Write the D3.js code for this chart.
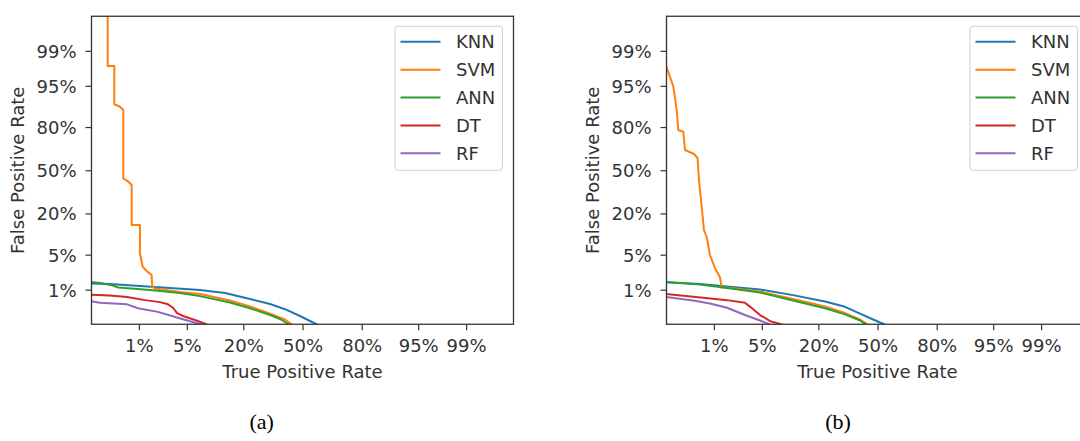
<!DOCTYPE html>
<html>
<head>
<meta charset="utf-8">
<script src="https://cdn.jsdelivr.net/npm/d3@7"></script>
<style>
  body { margin: 0; background: #fff; }
  svg { display: block; }
  .tick text { font-family: "DejaVu Sans", sans-serif; font-size: 18px; fill: #333; }
  .tick line { stroke: #333; stroke-width: 1.2; }
</style>
</head>
<body>
<script>
// DET plot, two panels, probit scaled axes
var models = ["KNN", "SVM", "ANN", "DT", "RF"];
var colors = ["#1f77b4", "#ff7f0e", "#2ca02c", "#d62728", "#9467bd"];
var tickRates = [0.01, 0.05, 0.2, 0.5, 0.8, 0.95, 0.99];
var tickLabels = ["1%", "5%", "20%", "50%", "80%", "95%", "99%"];

// panel (a): [x rate, y rate]
var knnA = [[0.001,0.0137],[0.0031,0.0133],[0.0104,0.0121],[0.0298,0.0109],[0.0725,0.0098],[0.1352,0.0084],[0.2278,0.0061],[0.322,0.0046],[0.4017,0.0034],[0.4857,0.00226],[0.5425,0.00166],[0.5816,0.00133]];
var svmA = [[0.0028,0.999],[0.0028,0.9789],[0.00373,0.9789],[0.00373,0.9006],[0.00473,0.892],[0.00542,0.8798],[0.00542,0.4376],[0.00663,0.4118],[0.00757,0.387],[0.00757,0.143],[0.0104,0.143],[0.0104,0.0528],[0.01154,0.0301],[0.01366,0.0241],[0.016,0.0206],[0.0163,0.01163],[0.018,0.0106],[0.0408,0.0088],[0.0725,0.008],[0.1513,0.0056],[0.2278,0.004],[0.322,0.0026],[0.4017,0.00182],[0.4407,0.00133]];
var annA = [[0.001,0.0151],[0.002,0.014],[0.0035,0.0124],[0.0044,0.0112],[0.0151,0.0098],[0.0408,0.0084],[0.0725,0.0071],[0.1513,0.005],[0.2278,0.0036],[0.322,0.0024],[0.3745,0.00188],[0.4239,0.00133]];
var dtA = [[0.001,0.0077],[0.0031,0.0073],[0.0063,0.0068],[0.0126,0.0057],[0.0214,0.0051],[0.0279,0.0045],[0.0328,0.0037],[0.0372,0.0027],[0.0447,0.00226],[0.0632,0.00177],[0.0873,0.00133]];
var rfA = [[0.001,0.0057],[0.002,0.0049],[0.0063,0.0045],[0.0097,0.0036],[0.0199,0.0029],[0.0317,0.00226],[0.0434,0.00188],[0.0686,0.00141],[0.0786,0.00133]];

// panel (b)
var knnB = [[0.001,0.0147],[0.0058,0.0133],[0.0162,0.0118],[0.0474,0.0101],[0.1147,0.0075],[0.2278,0.0053],[0.322,0.0039],[0.4017,0.0026],[0.4689,0.00188],[0.5143,0.00151],[0.5425,0.00133]];
var svmB = [[0.00135,0.9779],[0.00185,0.9482],[0.00215,0.8798],[0.00231,0.7835],[0.00288,0.7737],[0.0031,0.6535],[0.00454,0.6244],[0.00525,0.5945],[0.00557,0.4247],[0.0062,0.2432],[0.0068,0.1222],[0.00767,0.0934],[0.0086,0.0494],[0.0104,0.0285],[0.0126,0.0183],[0.0133,0.0112],[0.0162,0.0112],[0.0474,0.0091],[0.1147,0.0061],[0.2278,0.004],[0.322,0.0027],[0.4017,0.00182],[0.4463,0.00133]];
var annB = [[0.001,0.0151],[0.0058,0.013],[0.0162,0.0109],[0.0474,0.0086],[0.1147,0.0056],[0.2278,0.0036],[0.322,0.0025],[0.4017,0.00171],[0.4349,0.00133]];
var dtB = [[0.001,0.0082],[0.0044,0.0069],[0.0162,0.0057],[0.0298,0.0049],[0.0372,0.0036],[0.0474,0.0024],[0.065,0.0016],[0.0873,0.00133]];
var rfB = [[0.001,0.0071],[0.0044,0.0056],[0.0086,0.0047],[0.0162,0.0037],[0.0317,0.0023],[0.0474,0.00171],[0.0632,0.00133]];

var panelA = [knnA, svmA, annA, dtA, rfA];
var panelB = [knnB, svmB, annB, dtB, rfB];

// inverse normal cdf (Acklam)
function ppf(p) {
  var a = [-3.969683028665376e+01, 2.209460984245205e+02, -2.759285104469687e+02, 1.383577518672690e+02, -3.066479806614716e+01, 2.506628277459239e+00];
  var b = [-5.447609879822406e+01, 1.615858368580409e+02, -1.556989798598866e+02, 6.680131188771972e+01, -1.328068155288572e+01];
  var c = [-7.784894002430293e-03, -3.223964580411365e-01, -2.400758277161838e+00, -2.549732539343734e+00, 4.374664141464968e+00, 2.938163982698783e+00];
  var d = [7.784695709041462e-03, 3.224671290700398e-01, 2.445134137142996e+00, 3.754408661907416e+00];
  var q, r;
  if (p < 0.02425) {
    q = Math.sqrt(-2 * Math.log(p));
    return (((((c[0]*q+c[1])*q+c[2])*q+c[3])*q+c[4])*q+c[5]) / ((((d[0]*q+d[1])*q+d[2])*q+d[3])*q+1);
  } else if (p > 1 - 0.02425) {
    q = Math.sqrt(-2 * Math.log(1 - p));
    return -(((((c[0]*q+c[1])*q+c[2])*q+c[3])*q+c[4])*q+c[5]) / ((((d[0]*q+d[1])*q+d[2])*q+d[3])*q+1);
  }
  q = p - 0.5; r = q * q;
  return (((((a[0]*r+a[1])*r+a[2])*r+a[3])*r+a[4])*r+a[5])*q / (((((b[0]*r+b[1])*r+b[2])*r+b[3])*r+b[4])*r+1);
}

var W = 1080, H = 441;
var svg = d3.select("body").append("svg").attr("width", W).attr("height", H);

var top0 = 16.25, plotH = 308, plotW = 422;

function drawPanel(left, series, caption, id) {
  var x = d3.scaleLinear().domain([-3, 3]).range([0, plotW]);
  var y = d3.scaleLinear().domain([-3, 3]).range([plotH, 0]);
  var g = svg.append("g").attr("transform", "translate(" + left + "," + top0 + ")");

  g.append("clipPath").attr("id", id).append("rect")
    .attr("width", plotW).attr("height", plotH);

  var line = d3.line()
    .x(function(d) { return x(ppf(d[0])); })
    .y(function(d) { return y(ppf(d[1])); });

  var lines = g.append("g").attr("clip-path", "url(#" + id + ")");
  series.forEach(function(s, i) {
    lines.append("path")
      .attr("d", line(s))
      .attr("fill", "none")
      .attr("stroke", colors[i])
      .attr("stroke-width", 2)
      .attr("stroke-linejoin", "round");
  });

  // axes
  var ax = g.append("g")
    .attr("transform", "translate(0," + plotH + ")")
    .call(d3.axisBottom(x).tickValues(tickRates.map(ppf))
      .tickFormat(function(d, i) { return tickLabels[i]; })
      .tickSize(6).tickPadding(9).tickSizeOuter(0));
  ax.select(".domain").remove();

  var ay = g.append("g")
    .call(d3.axisLeft(y).tickValues(tickRates.map(ppf))
      .tickFormat(function(d, i) { return tickLabels[i]; })
      .tickSize(6).tickPadding(9).tickSizeOuter(0));
  ay.select(".domain").remove();
  ay.selectAll(".tick text").attr("dy", "0.36em");

  g.append("rect")
    .attr("width", plotW).attr("height", plotH)
    .attr("fill", "none").attr("stroke", "#333").attr("stroke-width", 1.3);

  // legend
  var lg = g.append("g").attr("transform", "translate(" + (plotW - 118.5) + ",10)");
  lg.append("rect")
    .attr("width", 107.5).attr("height", 144).attr("rx", 3)
    .attr("fill", "#fff").attr("fill-opacity", 0.8)
    .attr("stroke", "#d0d0d0").attr("stroke-width", 1);
  models.forEach(function(m, i) {
    var yy = 15.5 + i * 27.9;
    lg.append("line")
      .attr("x1", 5.5).attr("x2", 45.5).attr("y1", yy).attr("y2", yy)
      .attr("stroke", colors[i]).attr("stroke-width", 2);
    lg.append("text")
      .attr("x", 61).attr("y", yy).attr("dy", "0.36em")
      .style("font-family", "DejaVu Sans, sans-serif")
      .style("font-size", "18px").style("fill", "#333")
      .text(m);
  });

  // labels
  g.append("text")
    .attr("x", plotW / 2).attr("y", 355.5)
    .attr("text-anchor", "middle").attr("dy", "0.36em")
    .style("font-family", "DejaVu Sans, sans-serif")
    .style("font-size", "18px").style("fill", "#333")
    .text("True Positive Rate");

  g.append("text")
    .attr("transform", "translate(" + (-left + (left - 74)) + "," + (plotH / 2) + ") rotate(-90)")
    .attr("text-anchor", "middle").attr("dy", "0.36em")
    .style("font-family", "DejaVu Sans, sans-serif")
    .style("font-size", "18px").style("fill", "#333")
    .text("False Positive Rate");

  svg.append("text")
    .attr("x", caption.x).attr("y", 421.7)
    .attr("text-anchor", "middle").attr("dy", "0.35em")
    .style("font-family", "Liberation Serif, serif")
    .style("font-size", "22px").style("fill", "#000")
    .text(caption.t);
}

drawPanel(91.5, panelA, {t: "(a)", x: 261.7}, "clipA");
drawPanel(666.5, panelB, {t: "(b)", x: 838}, "clipB");
</script>
</body>
</html>
